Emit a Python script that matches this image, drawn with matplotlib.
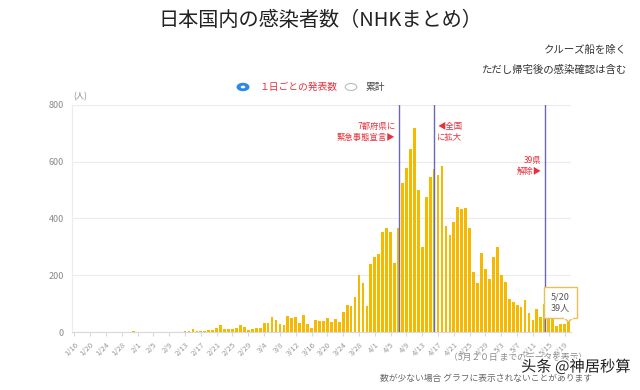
import numpy as np
import matplotlib
matplotlib.use("Agg")
import matplotlib.pyplot as plt
from matplotlib.patches import Circle, FancyBboxPatch, Polygon
import matplotlib.patheffects as pe

plt.rcParams['font.family'] = ['Noto Sans CJK JP', 'DejaVu Sans']

# 日付ラベル (1/16 から 5/20 まで, 2020年)
month_days = [(1, 16, 31), (2, 1, 29), (3, 1, 31), (4, 1, 30), (5, 1, 20)]
dates = [f"{m}/{d}" for m, a, b in month_days for d in range(a, b + 1)]

# 1日ごとの発表数 (人) 1/16-2/12 はほぼ 0
early = [0] * 28
early[15] = 5
mid = [3, 5, 9, 5, 5, 5, 6, 7, 14, 24, 9, 12, 9, 15, 24, 16, 6, 12, 15, 15,
       32, 31, 53, 41, 29, 26, 55, 51, 54, 32, 60, 27, 14, 41, 40, 38, 51, 36, 46, 36]
late = [71, 94, 90, 122, 200, 171, 92, 239, 266, 276, 354, 366, 354, 242, 366,
        524, 577, 644, 719, 501, 298, 477, 545, 574, 555, 586, 372, 341, 389, 442,
        434, 436, 368, 212, 171, 278, 223, 187, 263, 301, 200, 175, 116, 104, 94,
        87, 112, 68, 42, 80, 54, 99, 50, 54, 22, 27, 27, 39]
daily = early + mid + late

event_dates = ["4/7", "4/16", "5/14"]
yticks = [0, 200, 400, 600, 800]

x = np.arange(len(dates))
red = "#e8303a"
gray = "#8a8a8a"

fig = plt.figure(figsize=(6.4, 3.9), dpi=100)
ax = fig.add_axes([0.1125, 0.1487, 0.7795, 0.5821])

ax.bar(x, daily, width=0.7, color="#f7b900", zorder=3)
ax.set_xlim(-0.6, len(dates) - 0.4)
ax.set_ylim(0, 800)
ax.set_yticks(yticks)
ax.set_yticklabels([str(v) for v in yticks], fontsize=6.5, color=gray)
ax.yaxis.grid(True, color="#ececf0", linewidth=0.8)
ax.set_axisbelow(True)
ax.tick_params(axis="y", length=0, pad=6)
ax.set_xticks(x[::4])
ax.set_xticklabels(dates[::4], rotation=45, ha="right", fontsize=5.6, color="#999999",
                   rotation_mode="anchor")
ax.tick_params(axis="x", length=3, color="#d8d8e0", pad=3)
for s in ["top", "right"]:
    ax.spines[s].set_visible(False)
ax.spines["left"].set_color("#ececf0")
ax.spines["bottom"].set_color("#d8d8e0")

for d in event_dates:
    ax.axvline(dates.index(d), color="#6a66b8", linewidth=1, zorder=4)

ax.text(dates.index("4/7") - 0.8, 740, "7都府県に\n緊急事態宣言▶", color=red,
        fontsize=6, ha="right", va="top", linespacing=1.3)
ax.text(dates.index("4/16") + 0.8, 740, "◀全国\nに拡大", color=red,
        fontsize=6, ha="left", va="top", linespacing=1.3)
ax.text(dates.index("5/14") - 0.8, 620, "39県\n解除▶", color=red,
        fontsize=6, ha="right", va="top", linespacing=1.3)
ax.text(-0.2, 812, "(人)", fontsize=6, color=gray, ha="left", va="bottom")

# ツールチップ
last = len(dates) - 1
box = FancyBboxPatch((last - 6.3, 48), 8.4, 112, boxstyle="square,pad=0",
                     facecolor="white", edgecolor="#e6c15a", linewidth=1,
                     zorder=6, clip_on=False)
ax.add_patch(box)
tri = Polygon([[last - 1.0, 48], [last + 1.0, 48], [last, 36]], closed=True,
              facecolor="white", edgecolor="#e6c15a", linewidth=1, zorder=6,
              clip_on=False)
ax.add_patch(tri)
ax.plot([last - 0.9, last + 0.9], [48, 48], color="white", linewidth=1.5,
        zorder=7, clip_on=False)
ax.text(last - 2.1, 104, f"{dates[-1]}\n{daily[-1]}人", fontsize=6.5,
        color="#555555", ha="center", va="center", zorder=8, linespacing=1.3)

# タイトル・注記
fig.text(0.5, 0.948, "日本国内の感染者数（NHKまとめ）", fontsize=14.5,
         ha="center", va="center", color="#222222")
fig.text(0.98, 0.872, "クルーズ船を除く", fontsize=7.5, ha="right",
         va="center", color="#333333")
fig.text(0.98, 0.82, "ただし帰宅後の感染確認は含む", fontsize=7.5, ha="right",
         va="center", color="#333333")

# 凡例 (ラジオボタン)
fig.patches.append(Circle((243 / 640, 1 - 87 / 390), 0.009, transform=fig.transFigure,
                          facecolor="#2a8ae6", edgecolor="#2a8ae6", figure=fig))
fig.patches.append(Circle((243 / 640, 1 - 87 / 390), 0.0035, transform=fig.transFigure,
                          facecolor="white", edgecolor="none", figure=fig))
fig.text(260 / 640, 1 - 87 / 390, "１日ごとの発表数", fontsize=7, color=red,
         ha="left", va="center")
fig.patches.append(Circle((351 / 640, 1 - 87 / 390), 0.009, transform=fig.transFigure,
                          facecolor="white", edgecolor="#bbbbbb", linewidth=0.8,
                          figure=fig))
fig.text(365 / 640, 1 - 87 / 390, "累計", fontsize=7, color="#444444",
         ha="left", va="center")

fig.text(0.81, 1 - 357 / 390, "（5月２０日 までのデータを表示）", fontsize=6.3,
         ha="center", va="center", color=gray)
fig.text(0.76, 1 - 378 / 390, "数が少ない場合 グラフに表示されないことがあります",
         fontsize=6.3, ha="center", va="center", color="#666666")
fig.text(0.985, 1 - 367 / 390, "头条 @神居秒算", fontsize=11, ha="right",
         va="center", color="#222222", family=["Noto Sans CJK SC", "DejaVu Sans"],
         path_effects=[pe.withStroke(linewidth=2.5, foreground="white")])

fig.savefig("out.png", dpi=100)
